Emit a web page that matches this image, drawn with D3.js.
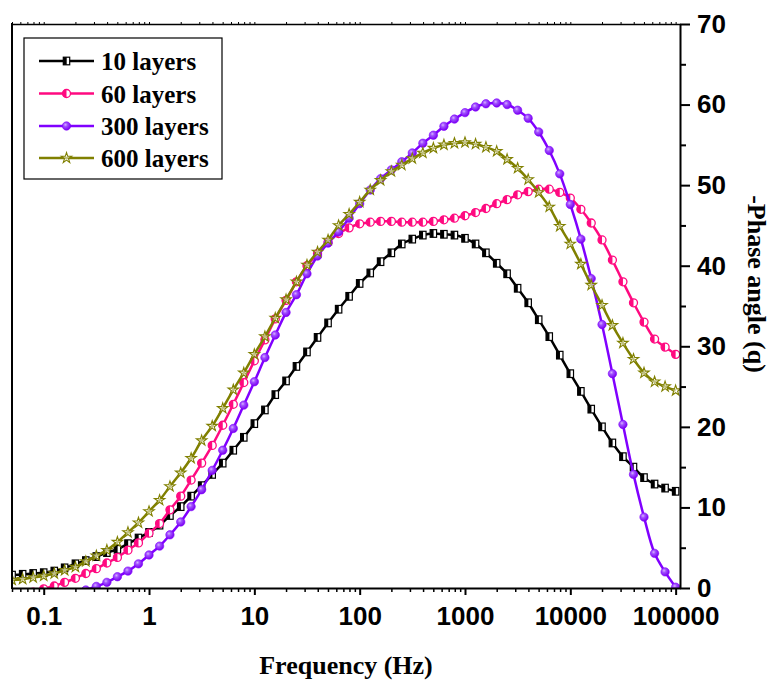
<!DOCTYPE html>
<html>
<head>
<meta charset="utf-8">
<script src="https://cdn.jsdelivr.net/npm/d3@7"></script>
<style>
  body { margin: 0; background: #fff; }
  svg { display: block; }
</style>
</head>
<body>
<svg id="chart" width="770" height="680"></svg>
<script>
// Measurement frequencies (Hz), 10 points per decade
const frequencies = [
  0.0501, 0.0631, 0.0794,
  0.1, 0.126, 0.158, 0.2, 0.251, 0.316, 0.398, 0.501, 0.631, 0.794,
  1, 1.26, 1.58, 2, 2.51, 3.16, 3.98, 5.01, 6.31, 7.94,
  10, 12.6, 15.8, 20, 25.1, 31.6, 39.8, 50.1, 63.1, 79.4,
  100, 126, 158, 200, 251, 316, 398, 501, 631, 794,
  1000, 1260, 1580, 2000, 2510, 3160, 3980, 5010, 6310, 7940,
  10000, 12600, 15800, 20000, 25100, 31600, 39800, 50100, 63100, 79400,
  100000
];

// -Phase angle for each film thickness
const phase10 = [
  1.6, 1.7, 1.8, 1.9, 2.1, 2.5, 3.0, 3.4, 3.9, 4.4,
  4.8, 5.5, 6.2, 6.9, 7.8, 9.0, 10.1, 11.4, 12.7, 14.1,
  15.5, 17.1, 18.7, 20.4, 22.1, 24.0, 25.7, 27.5, 29.3, 31.1,
  32.9, 34.6, 36.2, 37.8, 39.1, 40.5, 41.6, 42.7, 43.3, 43.8,
  44.0, 43.9, 43.8, 43.4, 42.7, 41.6, 40.3, 39.0, 37.2, 35.4,
  33.3, 31.2, 28.9, 26.6, 24.4, 22.2, 20.0, 18.0, 16.3, 15.0,
  13.7, 12.9, 12.4, 12.0
];
const phase60 = [
  -1.2, -0.85, -0.5, -0.1, 0.25, 0.7, 1.2, 1.8, 2.4, 3.1,
  3.8, 4.7, 5.6, 6.8, 8.0, 9.7, 11.4, 13.4, 15.5, 17.7,
  20.2, 22.8, 25.5, 28.2, 30.8, 33.4, 35.7, 38.0, 40.0, 41.5,
  42.9, 44.0, 44.7, 45.2, 45.4, 45.5, 45.5, 45.4, 45.4, 45.4,
  45.5, 45.7, 45.9, 46.2, 46.6, 47.1, 47.7, 48.2, 48.8, 49.2,
  49.5, 49.5, 49.1, 48.4, 47.0, 45.3, 43.2, 40.7, 38.0, 35.4,
  33.0, 30.9, 29.9, 29.0
];
const phase300 = [
  -2.9, -2.6, -2.3, -1.9, -1.5, -1.1, -0.7, -0.25, 0.2, 0.7,
  1.4, 2.1, 3.0, 4.1, 5.2, 6.6, 8.2, 10.1, 12.2, 14.6,
  17.1, 19.8, 22.7, 25.6, 28.6, 31.4, 34.2, 36.4, 39.0, 41.2,
  42.8, 44.2, 45.9, 47.7, 49.4, 50.8, 51.9, 52.9, 54.0, 55.2,
  56.2, 57.3, 58.2, 59.0, 59.7, 60.1, 60.2, 60.0, 59.3, 58.3,
  56.6, 54.3, 51.4, 47.6, 43.3, 38.4, 32.7, 26.6, 20.3, 14.1,
  8.8, 4.3, 2.0, 0.1
];
const phase600 = [
  1.0, 1.1, 1.3, 1.5, 1.8, 2.2, 2.6, 3.3, 4.0, 4.7,
  5.7, 6.9, 8.1, 9.5, 10.9, 12.6, 14.3, 16.1, 18.3, 20.1,
  22.3, 24.6, 26.7, 29.0, 31.2, 33.5, 35.8, 38.0, 40.1, 41.7,
  43.2, 45.0, 46.4, 47.9, 49.4, 50.6, 51.7, 52.5, 53.3, 54.0,
  54.6, 55.0, 55.2, 55.3, 55.1, 54.7, 54.2, 53.2, 52.1, 50.7,
  49.1, 47.3, 44.9, 42.7, 40.2, 37.6, 35.1, 32.6, 30.4, 28.4,
  26.7, 25.6, 25.0, 24.5
];

const seriesNames = ["10 layers", "60 layers", "300 layers", "600 layers"];
const seriesColors = ["#000000", "#FF0A80", "#8000FF", "#808000"];
const seriesMarkers = ["halfSquare", "halfCircle", "ball", "star"];
const seriesValues = [phase10, phase60, phase300, phase600];

const xTickValues = [0.1, 1, 10, 100, 1000, 10000, 100000];
const xTickLabels = ["0.1", "1", "10", "100", "1000", "10000", "100000"];
const yTickValues = [0, 10, 20, 30, 40, 50, 60, 70];
const yMinorValues = [5, 15, 25, 35, 45, 55, 65];

const xTitle = "Frequency (Hz)";
const yTitle = "-Phase angle (q)";

// ---- layout ----
const plot = { left: 12, right: 680, top: 24, bottom: 588 };
const sansBold = "'Liberation Sans', Arial, Helvetica, sans-serif";
const serifBold = "'Liberation Serif', 'Times New Roman', Times, serif";

const svg = d3.select("#chart");

const x = d3.scaleLog().domain([0.05, 1.1e5]).range([plot.left, plot.right]);
const y = d3.scaleLinear().domain([0, 70]).range([plot.bottom, plot.top]);

// minor x ticks 2..9 within each decade
const xMinorValues = [];
[0.01, 0.1, 1, 10, 100, 1000, 10000, 100000].forEach(dec => {
  for (let m = 2; m <= 9; m++) {
    const v = dec * m;
    if (v >= x.domain()[0] && v <= x.domain()[1]) xMinorValues.push(v);
  }
});

const defs = svg.append("defs");
defs.append("clipPath").attr("id", "plotClip")
  .append("rect")
  .attr("x", plot.left).attr("y", plot.top)
  .attr("width", plot.right - plot.left).attr("height", plot.bottom - plot.top);

const ballGrad = defs.append("radialGradient").attr("id", "ballGrad")
  .attr("cx", "38%").attr("cy", "35%").attr("r", "65%");
ballGrad.append("stop").attr("offset", "0%").attr("stop-color", "#d8b0ff");
ballGrad.append("stop").attr("offset", "35%").attr("stop-color", "#a050ff");
ballGrad.append("stop").attr("offset", "100%").attr("stop-color", "#7a00f0");

// ---- series ----
const line = d3.line()
  .x(d => x(d.f))
  .y(d => y(d.v))
  .curve(d3.curveCatmullRom.alpha(0.5));

const starPath = d3.symbol().type(d3.symbolStar).size(34)();

function drawMarker(g, kind, color) {
  if (kind === "halfSquare") {
    g.append("rect").attr("x", -3.2).attr("y", -3.8).attr("width", 6.4).attr("height", 7.6)
      .attr("fill", "#fff").attr("stroke", color).attr("stroke-width", 1.2);
    g.append("rect").attr("x", -3.2).attr("y", -3.8).attr("width", 3.4).attr("height", 7.6)
      .attr("fill", color);
  } else if (kind === "halfCircle") {
    g.append("circle").attr("r", 4).attr("fill", "#fff")
      .attr("stroke", color).attr("stroke-width", 1.3);
    g.append("path").attr("d", d3.arc()({ innerRadius: 0, outerRadius: 4, startAngle: Math.PI, endAngle: 2 * Math.PI }))
      .attr("fill", color);
  } else if (kind === "ball") {
    g.append("circle").attr("r", 4.2).attr("fill", "url(#ballGrad)")
      .attr("stroke", color).attr("stroke-width", 0.6);
  } else if (kind === "star") {
    g.append("path").attr("d", starPath).attr("fill", "#fff").attr("fill-opacity", 0.5)
      .attr("stroke", color).attr("stroke-width", 1.1);
  }
}

const dataLayer = svg.append("g").attr("clip-path", "url(#plotClip)");

seriesValues.forEach((vals, si) => {
  const pts = frequencies.map((f, i) => ({ f, v: vals[i] }));
  const g = dataLayer.append("g").attr("class", "series");
  g.append("path")
    .attr("d", line(pts))
    .attr("fill", "none")
    .attr("stroke", seriesColors[si])
    .attr("stroke-width", 2.5);
  g.selectAll("g.mk").data(pts).join("g")
    .attr("class", "mk")
    .attr("transform", d => `translate(${x(d.f)},${y(d.v)})`)
    .each(function () { drawMarker(d3.select(this), seriesMarkers[si], seriesColors[si]); });
});

// ---- axes ----
// bottom axis
const bottomAxis = svg.append("g").attr("transform", `translate(0,${plot.bottom})`)
  .call(d3.axisBottom(x).tickValues(xTickValues)
    .tickFormat((d, i) => xTickLabels[i])
    .tickSize(7).tickSizeOuter(0).tickPadding(12));
bottomAxis.select(".domain").attr("stroke-width", 2);
bottomAxis.selectAll(".tick line").attr("stroke-width", 2);
bottomAxis.selectAll("text")
  .attr("font-family", sansBold).attr("font-weight", "bold").attr("font-size", 26)
  .attr("fill", "#000");

const bottomMinor = svg.append("g").attr("transform", `translate(0,${plot.bottom})`)
  .call(d3.axisBottom(x).tickValues(xMinorValues).tickFormat("").tickSize(4).tickSizeOuter(0));
bottomMinor.select(".domain").remove();
bottomMinor.selectAll(".tick line").attr("stroke-width", 1.5);

// top axis: frame line with short outward ticks
const topAxis = svg.append("g").attr("transform", `translate(0,${plot.top})`)
  .call(d3.axisTop(x).tickValues(xTickValues.concat(xMinorValues)).tickFormat("").tickSize(2).tickSizeOuter(0));
topAxis.select(".domain").attr("stroke-width", 1.6);
topAxis.selectAll(".tick line").attr("stroke-width", 1);

// right axis
const rightAxis = svg.append("g").attr("transform", `translate(${plot.right},0)`)
  .call(d3.axisRight(y).tickValues(yTickValues).tickFormat(d3.format("d"))
    .tickSize(10).tickSizeOuter(0).tickPadding(7));
rightAxis.select(".domain").attr("stroke-width", 2);
rightAxis.selectAll(".tick line").attr("stroke-width", 2);
rightAxis.selectAll("text")
  .attr("font-family", sansBold).attr("font-weight", "bold").attr("font-size", 26)
  .attr("fill", "#000");

const rightMinor = svg.append("g").attr("transform", `translate(${plot.right},0)`)
  .call(d3.axisRight(y).tickValues(yMinorValues).tickFormat("").tickSize(6).tickSizeOuter(0));
rightMinor.select(".domain").remove();
rightMinor.selectAll(".tick line").attr("stroke-width", 2);

// left frame line
svg.append("line")
  .attr("x1", plot.left).attr("x2", plot.left)
  .attr("y1", plot.top - 1).attr("y2", plot.bottom + 1)
  .attr("stroke", "#000").attr("stroke-width", 2);

// ---- titles ----
svg.append("text")
  .attr("x", (plot.left + plot.right) / 2)
  .attr("y", 674)
  .attr("text-anchor", "middle")
  .attr("font-family", serifBold).attr("font-weight", "bold").attr("font-size", 26)
  .text(xTitle);

svg.append("text")
  .attr("transform", `translate(748,284) rotate(90)`)
  .attr("text-anchor", "middle")
  .attr("font-family", serifBold).attr("font-weight", "bold").attr("font-size", 26)
  .text(yTitle);

// ---- legend ----
const legend = svg.append("g");
legend.append("rect")
  .attr("x", 24).attr("y", 38).attr("width", 198).attr("height", 141)
  .attr("fill", "#fff").attr("stroke", "#000").attr("stroke-width", 1.2);

const legendRows = [61, 93.5, 126, 158];
seriesNames.forEach((name, i) => {
  const row = legend.append("g").attr("transform", `translate(0,${legendRows[i]})`);
  row.append("line").attr("x1", 39).attr("x2", 94).attr("y1", 0).attr("y2", 0)
    .attr("stroke", seriesColors[i]).attr("stroke-width", 2.5);
  const mk = row.append("g").attr("transform", "translate(66.5,0)");
  drawMarker(mk, seriesMarkers[i], seriesColors[i]);
  row.append("text")
    .attr("x", 101).attr("y", 0).attr("dy", "0.36em")
    .attr("font-family", serifBold).attr("font-weight", "bold").attr("font-size", 25)
    .text(name);
});
</script>
</body>
</html>
